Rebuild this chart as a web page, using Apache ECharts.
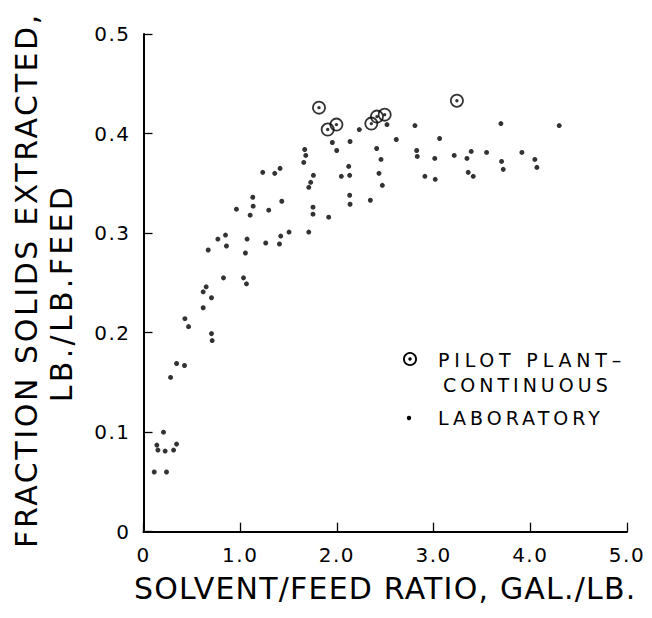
<!DOCTYPE html>
<html>
<head>
<meta charset="utf-8">
<script src="https://cdn.jsdelivr.net/npm/echarts@6/dist/echarts.min.js"></script>
<style>
  html, body { margin: 0; padding: 0; background: #ffffff; }
  #chart { width: 652px; height: 618px; }
</style>
</head>
<body>
<div id="chart"></div>
<script>
// Axis ticks
const xTickLabels = ['0', '1.0', '2.0', '3.0', '4.0', '5.0'];
const yTickLabels = ['0', '0.1', '0.2', '0.3', '0.4', '0.5'];

// Pilot plant, continuous runs: [solvent/feed ratio, fraction extracted]
const pilotPlant = [
  [1.815, 0.426], [1.905, 0.404], [1.995, 0.409],
  [2.356, 0.410], [2.414, 0.417], [2.494, 0.419],
  [3.241, 0.433]
];

// Laboratory runs
const laboratory = [
  [0.111, 0.060], [0.238, 0.060], [0.138, 0.087], [0.149, 0.082],
  [0.224, 0.081], [0.311, 0.082], [0.342, 0.088], [0.207, 0.100],
  [0.280, 0.155], [0.342, 0.169], [0.424, 0.167], [0.703, 0.199],
  [0.710, 0.192], [0.428, 0.214], [0.466, 0.206], [0.617, 0.225],
  [0.703, 0.235], [0.617, 0.241], [0.648, 0.246], [0.827, 0.255],
  [1.034, 0.255], [1.065, 0.249], [0.669, 0.283], [0.769, 0.294],
  [0.848, 0.298], [0.858, 0.287], [1.071, 0.294], [1.054, 0.280],
  [1.264, 0.290], [1.406, 0.289], [1.419, 0.297], [1.505, 0.301],
  [1.709, 0.301], [0.961, 0.324], [1.295, 0.323], [1.430, 0.332],
  [1.130, 0.336], [1.134, 0.327], [1.103, 0.318], [1.233, 0.361],
  [1.357, 0.360], [1.412, 0.365], [1.657, 0.371], [1.667, 0.384],
  [1.678, 0.378], [1.757, 0.358], [1.729, 0.351], [1.709, 0.346],
  [1.753, 0.326], [1.753, 0.319], [1.915, 0.316], [1.953, 0.391],
  [1.998, 0.383], [2.136, 0.392], [2.232, 0.404], [2.122, 0.367],
  [2.046, 0.357], [2.132, 0.358], [2.132, 0.338], [2.136, 0.329],
  [2.346, 0.333], [2.411, 0.385], [2.456, 0.374], [2.435, 0.360],
  [2.470, 0.348], [2.518, 0.409], [2.614, 0.394], [2.807, 0.408],
  [2.825, 0.383], [2.831, 0.377], [2.910, 0.357], [3.012, 0.375],
  [3.017, 0.354], [3.062, 0.395], [3.213, 0.378], [3.345, 0.375],
  [3.389, 0.382], [3.358, 0.361], [3.410, 0.357], [3.548, 0.381],
  [3.696, 0.410], [3.703, 0.372], [3.720, 0.364], [3.913, 0.381],
  [4.047, 0.374], [4.068, 0.366], [4.299, 0.408]
];

const FONT = '"DejaVu Sans", "Liberation Sans", sans-serif';
const INK = '#000000';

// Ring with a centre dot; inner circle wound the other way to cut the hole
const ringDot = 'path://M0 14A14 14 0 1 1 28 14A14 14 0 1 1 0 14Z' +
  'M3.6 14A10.4 10.4 0 1 0 24.4 14A10.4 10.4 0 1 0 3.6 14Z' +
  'M10.6 14A3.4 3.4 0 1 1 17.4 14A3.4 3.4 0 1 1 10.6 14Z';

// Hand-lettered look: extra tracking per text string
const tracking = {
  'PILOT PLANT\u2013': 4.8,
  'CONTINUOUS': 4,
  'LABORATORY': 4,
  'FRACTION SOLIDS EXTRACTED,': 2.6,
  'LB./LB.FEED': 3.3,
  'SOLVENT/FEED RATIO, GAL./LB.': 1.2
};

const chart = echarts.init(document.getElementById('chart'), null, { renderer: 'svg' });

const axisCommon = {
  axisLine: { show: true, onZero: false, lineStyle: { color: INK, width: 2 } },
  axisTick: { show: true, inside: true, length: 9, lineStyle: { color: INK, width: 1.3 } },
  splitLine: { show: false },
  axisLabel: { color: INK, fontFamily: FONT, fontSize: 20, margin: 13 }
};

chart.setOption({
  animation: false,
  backgroundColor: '#ffffff',
  grid: { left: 143.5, right: 25, top: 34, bottom: 86.3 },
  xAxis: Object.assign({}, axisCommon, {
    type: 'value', min: 0, max: 5, interval: 1,
    axisLabel: Object.assign({}, axisCommon.axisLabel, {
      formatter: v => xTickLabels[Math.round(v)]
    }),
    name: 'SOLVENT/FEED RATIO, GAL./LB.',
    nameLocation: 'middle',
    nameGap: 42,
    nameTextStyle: { color: INK, fontFamily: FONT, fontSize: 30 }
  }),
  yAxis: Object.assign({}, axisCommon, {
    type: 'value', min: 0, max: 0.5, interval: 0.1,
    axisLabel: Object.assign({}, axisCommon.axisLabel, {
      formatter: v => yTickLabels[Math.round(v * 10)]
    })
  }),
  graphic: [
    {
      type: 'text', x: 26, y: 280, rotation: Math.PI / 2,
      style: { text: 'FRACTION SOLIDS EXTRACTED,', fill: INK, font: '30px ' + FONT,
               textAlign: 'center', textVerticalAlign: 'middle' }
    },
    {
      type: 'text', x: 61.7, y: 293, rotation: Math.PI / 2,
      style: { text: 'LB./LB.FEED', fill: INK, font: '30px ' + FONT,
               textAlign: 'center', textVerticalAlign: 'middle' }
    },
    // key
    { type: 'circle', shape: { cx: 410, cy: 359, r: 6.1 },
      style: { fill: 'none', stroke: INK, lineWidth: 1.8 } },
    { type: 'circle', shape: { cx: 410, cy: 359, r: 1.7 }, style: { fill: INK } },
    { type: 'circle', shape: { cx: 409, cy: 418, r: 2.2 }, style: { fill: INK } },
    { type: 'text', x: 438, y: 360, style: { text: 'PILOT PLANT\u2013', fill: INK,
      font: '19px ' + FONT, textAlign: 'left', textVerticalAlign: 'middle' } },
    { type: 'text', x: 443, y: 385, style: { text: 'CONTINUOUS', fill: INK,
      font: '19px ' + FONT, textAlign: 'left', textVerticalAlign: 'middle' } },
    { type: 'text', x: 438, y: 418, style: { text: 'LABORATORY', fill: INK,
      font: '19px ' + FONT, textAlign: 'left', textVerticalAlign: 'middle' } }
  ],
  series: [
    {
      name: 'LABORATORY', type: 'scatter', data: laboratory,
      symbol: 'circle', symbolSize: 5,
      itemStyle: { color: INK }, z: 2
    },
    {
      name: 'PILOT PLANT\u2013CONTINUOUS', type: 'scatter', data: pilotPlant,
      symbol: ringDot, symbolSize: 14,
      itemStyle: { color: INK }, z: 3
    }
  ]
});

// Apply tracking to the rendered SVG text nodes
function applyTracking() {
  document.querySelectorAll('#chart svg text').forEach(t => {
    const txt = t.textContent;
    let s = tracking[txt];
    if (s == null && /^[0-9.]+$/.test(txt)) s = 1.5;
    if (s != null) t.style.letterSpacing = s + 'px';
  });
}
chart.on('finished', applyTracking);
setTimeout(applyTracking, 0);
</script>
</body>
</html>
